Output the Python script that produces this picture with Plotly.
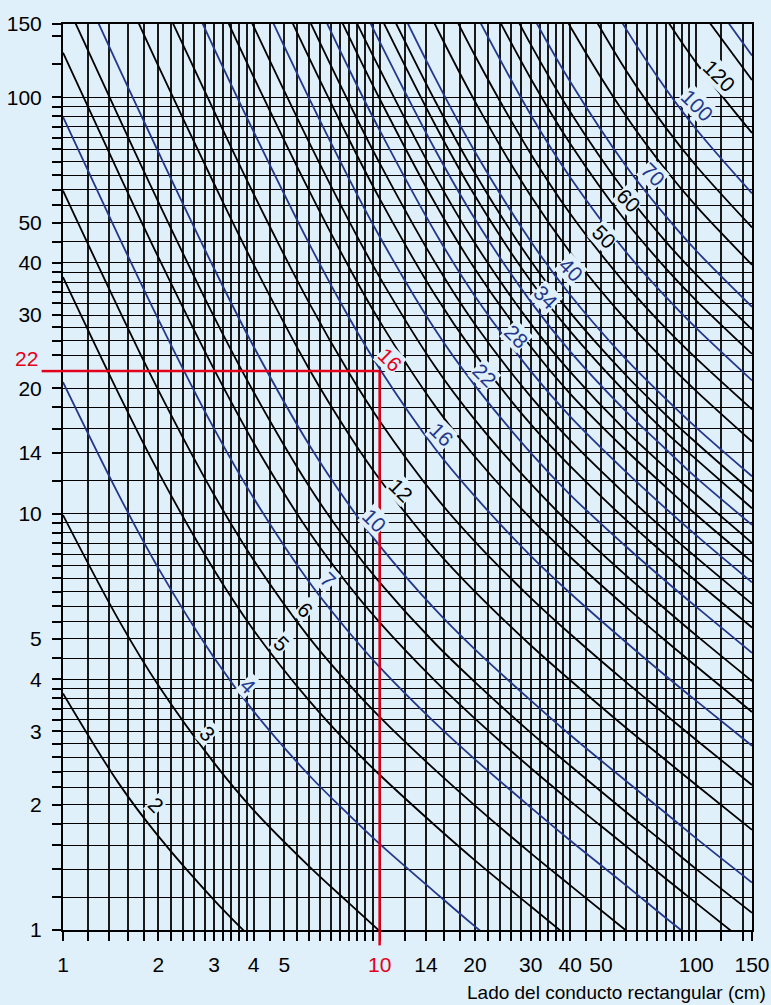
import numpy as np
import plotly.graph_objects as go

# lado del conducto (cm) donde se leen las curvas
lado_x = [1, 1.5, 2, 3, 4, 6, 8, 10, 15, 20, 30, 40, 60, 80, 100, 150]

# diámetro equivalente de cada curva
diametros = [2, 3, 4, 5, 6, 7, 8, 9, 10, 12, 14, 16, 18, 20, 22, 24, 26, 28, 30, 32, 34,
             36, 38, 40, 45, 50, 55, 60, 65, 70, 80, 90, 100, 120, 140, 150]
azules = [4, 7, 10, 16, 22, 28, 34, 40, 55, 70, 100, 150]

_ = None
curvas_y = [
    [3.7, 2.25, 1.68, 1.18, 0.944, _, _, _, _, _, _, _, _, _, _, _],
    [9.92, 5.55, 3.87, 2.52, 1.94, 1.42, 1.16, 0.994, _, _, _, _, _, _, _, _],
    [20.7, 11.1, 7.4, 4.51, 3.35, 2.35, 1.89, 1.61, 1.23, 1.02, 0.793, _, _, _, _, _],
    [37, 19.4, 12.6, 7.32, 5.25, 3.55, 2.79, 2.36, 1.78, 1.47, 1.14, 0.953, _, _, _, _],
    [59.7, 31, 19.8, 11.1, 7.74, 5.03, 3.89, 3.25, 2.42, 1.99, 1.53, 1.28, 0.997, _, _, _],
    [89.7, 46.3, 29.3, 16, 10.9, 6.84, 5.19, 4.28, 3.14, 2.57, 1.97, 1.64, 1.28, 1.07, 0.936, _],
    [128, 65.7, 41.3, 22.2, 14.8, 9.02, 6.71, 5.48, 3.96, 3.22, 2.45, 2.04, 1.59, 1.33, 1.16, 0.908],
    [175, 89.6, 56.1, 29.7, 19.6, 11.6, 8.47, 6.84, 4.87, 3.94, 2.98, 2.48, 1.92, 1.61, 1.4, 1.1],
    [231, 118, 73.9, 38.8, 25.2, 14.6, 10.5, 8.38, 5.88, 4.72, 3.56, 2.94, 2.28, 1.91, 1.66, 1.3],
    [_, 192, 119, 62, 39.7, 22.2, 15.5, 12.1, 8.21, 6.5, 4.83, 3.98, 3.06, 2.56, 2.23, 1.74],
    [_, _, 179, 92.6, 58.6, 32, 21.8, 16.7, 11, 8.57, 6.28, 5.14, 3.94, 3.29, 2.86, 2.23],
    [_, _, 256, 131, 82.7, 44.4, 29.6, 22.3, 14.3, 11, 7.92, 6.44, 4.91, 4.08, 3.55, 2.77],
    [_, _, _, 179, 112, 59.5, 39.1, 29, 18.1, 13.7, 9.74, 7.87, 5.97, 4.95, 4.3, 3.34],
    [_, _, _, 237, 148, 77.7, 50.5, 37, 22.5, 16.8, 11.8, 9.44, 7.11, 5.89, 5.1, 3.96],
    [_, _, _, _, 190, 99.1, 63.8, 46.3, 27.6, 20.3, 14, 11.1, 8.34, 6.89, 5.97, 4.63],
    [_, _, _, _, 239, 124, 79.3, 57.1, 33.4, 24.2, 16.4, 13, 9.66, 7.96, 6.88, 5.33],
    [_, _, _, _, _, 153, 97.1, 69.5, 40, 28.5, 19.1, 15, 11.1, 9.09, 7.85, 6.07],
    [_, _, _, _, _, 185, 117, 83.4, 47.3, 33.3, 22, 17.1, 12.6, 10.3, 8.87, 6.84],
    [_, _, _, _, _, 222, 140, 99.2, 55.5, 38.7, 25.2, 19.4, 14.2, 11.6, 9.94, 7.66],
    [_, _, _, _, _, _, 165, 117, 64.6, 44.6, 28.6, 21.9, 15.8, 12.9, 11.1, 8.51],
    [_, _, _, _, _, _, 193, 136, 74.6, 51, 32.3, 24.5, 17.6, 14.3, 12.2, 9.4],
    [_, _, _, _, _, _, _, 158, 85.7, 58, 36.2, 27.4, 19.5, 15.7, 13.5, 10.3],
    [_, _, _, _, _, _, _, 181, 97.7, 65.7, 40.5, 30.4, 21.5, 17.3, 14.8, 11.3],
    [_, _, _, _, _, _, _, 207, 111, 74, 45.1, 33.5, 23.5, 18.9, 16.1, 12.3],
    [_, _, _, _, _, _, _, 281, 149, 97.8, 58, 42.4, 29.2, 23.2, 19.7, 14.9],
    [_, _, _, _, _, _, _, _, 194, 126, 73.2, 52.5, 35.5, 27.9, 23.6, 17.8],
    [_, _, _, _, _, _, _, _, _, 160, 90.8, 64.2, 42.5, 33.2, 27.9, 20.9],
    [_, _, _, _, _, _, _, _, _, 198, 111, 77.4, 50.3, 38.9, 32.5, 24.2],
    [_, _, _, _, _, _, _, _, _, 243, 134, 92.2, 58.9, 45.1, 37.5, 27.7],
    [_, _, _, _, _, _, _, _, _, _, 160, 109, 68.4, 51.9, 42.8, 31.4],
    [_, _, _, _, _, _, _, _, _, _, 222, 148, 90.2, 67.1, 54.8, 39.6],
    [_, _, _, _, _, _, _, _, _, _, _, 196, 116, 84.7, 68.4, 48.7],
    [_, _, _, _, _, _, _, _, _, _, _, 252, 146, 105, 83.8, 58.8],
    [_, _, _, _, _, _, _, _, _, _, _, _, _, 155, 121, 82.1],
    [_, _, _, _, _, _, _, _, _, _, _, _, _, _, 167, 110],
    [_, _, _, _, _, _, _, _, _, _, _, _, _, _, 193, 126],
]

# etiquetas sobre las curvas
etiquetas = ["2", "3", "4", "5", "6", "7", "10", "12", "16", "22", "28", "34", "40",
             "50", "60", "70", "100", "120"]
etiq_x = [1.96, 2.86, 3.83, 4.9, 5.8, 6.85, 9.64, 11.6, 15.7, 21.5, 27.1, 33.5, 40.1,
          51, 61.2, 72.9, 101, 118]
etiq_y = [2.0, 2.97, 3.86, 4.89, 5.87, 6.93, 9.65, 11.4, 15.5, 21.5, 26.7, 33.1, 38.5,
          46.2, 56.6, 65.1, 95.8, 113]

# lectura de ejemplo: 10 x 22 cm -> 16 cm
ej_x, ej_y, ej_d = 10, 22, "16"

# rejilla
rejilla = [1, 1.2, 1.4, 1.6, 1.8, 2, 2.2, 2.4, 2.6, 2.8, 3, 3.2, 3.4, 3.6, 3.8, 4,
           4.5, 5, 5.5, 6, 6.5, 7, 7.5, 8, 8.5, 9, 9.5, 10,
           12, 14, 16, 18, 20, 22, 24, 26, 28, 30, 32, 34, 36, 38, 40,
           45, 50, 55, 60, 65, 70, 75, 80, 85, 90, 95, 100]
x_rotulos = {1: "1", 2: "2", 3: "3", 4: "4", 5: "5", 10: "10", 14: "14", 20: "20",
             30: "30", 40: "40", 50: "50", 100: "100", 150: "150"}
y_rotulos = {1: "1", 2: "2", 3: "3", 4: "4", 5: "5", 10: "10", 14: "14", 20: "20",
             30: "30", 40: "40", 50: "50", 100: "100", 150: "150"}

BG = "#dff0fa"
NEGRO = "#000000"
AZUL = "#23378c"
ROJO = "#e3001b"
FONT = "Liberation Sans, Arial, sans-serif"

fig = go.Figure()
for d, ys in zip(diametros, curvas_y):
    fig.add_trace(go.Scatter(
        x=lado_x, y=ys, mode="lines", line_shape="spline",
        line=dict(color=AZUL if d in azules else NEGRO, width=1.8),
        name=str(d), showlegend=False, hoverinfo="skip"))


def rotulo(v, rotulos, rojo):
    t = rotulos.get(v, "")
    if t and v == rojo:
        t = f'<span style="color:{ROJO}">{t}</span>'
    return t


x_ticks = rejilla + [120, 140, 150]
y_ticks = rejilla + [150]

fig.update_layout(
    width=771, height=1005,
    paper_bgcolor=BG, plot_bgcolor=BG,
    margin=dict(l=63, r=19, t=24, b=75),
    font=dict(family=FONT, size=21, color="black"),
    showlegend=False,
)
fig.update_xaxes(
    type="log", range=[0, np.log10(150)], automargin=False,
    tickmode="array", tickvals=x_ticks,
    ticktext=[rotulo(v, x_rotulos, ej_x) for v in x_ticks],
    ticks="outside", ticklen=9, tickwidth=1.5, tickcolor="black",
    ticklabelstandoff=6,
    showgrid=True, gridcolor="#1a1a1a", gridwidth=1.5,
    showline=True, linecolor="black", linewidth=2, mirror=True,
)
fig.update_yaxes(
    type="log", range=[0, np.log10(150)], automargin=False,
    tickmode="array", tickvals=y_ticks,
    ticktext=[rotulo(v, y_rotulos, ej_y) for v in y_ticks],
    ticks="outside", ticklen=9, tickwidth=1.5, tickcolor="black",
    ticklabelstandoff=6,
    showgrid=True, gridcolor="#000000", gridwidth=1,
    showline=True, linecolor="black", linewidth=2, mirror=True,
    minor=dict(tickvals=[120, 140], ticks="outside", ticklen=9, tickwidth=1.5,
               tickcolor="black", showgrid=False),
)

for t, x, y in zip(etiquetas, etiq_x, etiq_y):
    col = AZUL if int(t) in azules else NEGRO
    fig.add_annotation(x=np.log10(x), y=np.log10(y), text=t, showarrow=False,
                       textangle=45, font=dict(size=21, color=col),
                       bgcolor=BG, borderpad=0)

# lectura de ejemplo en rojo
fig.add_shape(type="line", xref="x", yref="y", x0=1, x1=ej_x, y0=ej_y, y1=ej_y,
              line=dict(color=ROJO, width=2.5))
fig.add_shape(type="line", xref="paper", yref="y", x0=-0.031, x1=0, y0=ej_y, y1=ej_y,
              line=dict(color=ROJO, width=2.5))
fig.add_shape(type="line", xref="x", yref="y", x0=ej_x, x1=ej_x, y0=1, y1=ej_y,
              line=dict(color=ROJO, width=2.5))
fig.add_shape(type="line", xref="x", yref="paper", x0=ej_x, x1=ej_x, y0=-0.017, y1=0,
              line=dict(color=ROJO, width=2.5))
fig.add_annotation(x=-0.033, xref="paper", y=np.log10(ej_y), yref="y", text=str(ej_y),
                   showarrow=False, xanchor="right", yanchor="middle", yshift=13,
                   font=dict(size=21, color=ROJO))
fig.add_annotation(x=np.log10(10.76), y=np.log10(23.4), text=ej_d, showarrow=False,
                   textangle=45, font=dict(size=21, color=ROJO), bgcolor=BG, borderpad=0)

fig.add_annotation(x=1.023, y=-0.0695, xref="paper", yref="paper",
                   text="Lado del conducto rectangular (cm)", showarrow=False,
                   xanchor="right", yanchor="middle", font=dict(size=19, color="black"))

# sin margen de página, para que la figura ocupe la ventana
fig.write_html("out.html", config={"displayModeBar": False},
               post_script="document.body.style.margin='0px';"
                           "document.body.style.backgroundColor='#dff0fa';")
